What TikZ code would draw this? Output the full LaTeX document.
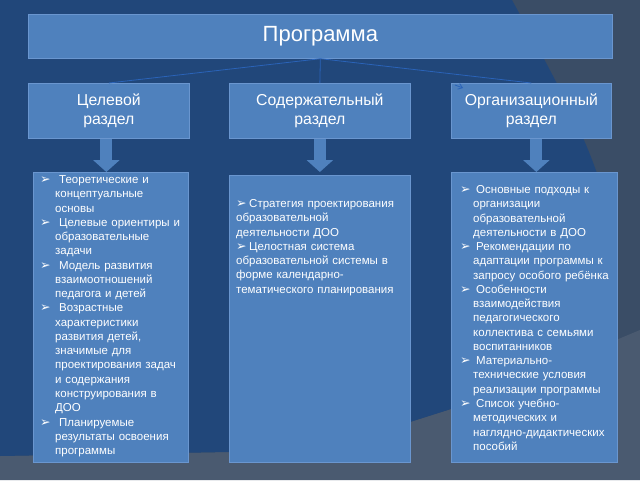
\documentclass[tikz,border=0pt]{standalone}
\usepackage{fontspec}
\setmainfont{Liberation Sans}
\newfontfamily\dejavu{DejaVu Sans}
\usetikzlibrary{arrows.meta}
\definecolor{navy}{HTML}{21477A}
\definecolor{greybg}{HTML}{3A4D66}
\definecolor{greylow}{HTML}{4A5A70}
\definecolor{boxfill}{HTML}{4F81BD}
\definecolor{boxline}{HTML}{6A96CF}
\definecolor{connc}{HTML}{2A63B8}
\newcommand\bul{{\dejavu\fontsize{12.5}{12}\selectfont ➢}}
\newcommand\myitem[2]{\par\hangindent=#1\hangafter=1\noindent\makebox[#2][l]{\bul}}
\tikzset{
  box/.style={draw=boxline, line width=0.7pt, fill=boxfill, text=white, inner sep=0pt, anchor=north west, align=center},
  conn/.style={draw=connc, line width=0.8pt},
  barrow/.style={draw=boxfill, line width=12pt, -{Triangle[width=26pt,length=12pt]}},
  itemtext/.style={text=white, inner sep=0pt, anchor=north west, align=left, text width=175pt, font=\fontsize{11.5}{14.27}\selectfont},
  lvl/.style={box, minimum height=55pt, font=\fontsize{15.8}{19}\selectfont}
}
\begin{document}
\begin{tikzpicture}[x=1pt,y=-1pt]
\useasboundingbox (0,0) rectangle (640,480);
\fill[greybg] (0,0) rectangle (640,480);
\fill[greylow] (0,456) -- (229,452) .. controls (330,445) and (380,430) .. (410,422) -- (451,409) -- (640,330) -- (640,480) -- (0,480) -- cycle;
\fill[navy] (0,0) -- (512,0) .. controls (550,70) and (590,140) .. (605,200) -- (613,339) -- (451,409) -- (410,422)
  .. controls (380,430) and (330,445) .. (229,452) -- (0,456) -- cycle;

\node[box, minimum width=584pt, minimum height=44pt, font=\fontsize{22}{24}\selectfont] (prog) at (28,14) {Программа};
\node[lvl, minimum width=161pt] (lbox) at (28,83) {Целевой\\раздел};
\node[lvl, minimum width=181pt] (mbox) at (229,83) {Содержательный\\раздел};
\node[lvl, minimum width=160pt] (rbox) at (451,83) {Организационный\\раздел};

\node[box, minimum width=155pt, minimum height=290pt] (lcont) at (33,172) {};
\node[box, minimum width=181pt, minimum height=287pt] (mcont) at (229,175) {};
\node[box, minimum width=166pt, minimum height=290pt] (rcont) at (451,172) {};

\draw[conn] (prog.south) -- (lbox.north);
\draw[conn] (prog.south) -- (mbox.north);
\draw[conn] (prog.south) -- (rbox.north);
\coordinate (ta) at (455,85);
\coordinate (tb) at (463,88);
\draw[conn, -{Straight Barb[length=4pt,width=6pt]}] (ta) -- (tb);

\draw[barrow] ([xshift=-2.5pt]lbox.south) -- ([xshift=-2.5pt]lbox.south |- lcont.north);
\draw[barrow] (mbox.south) -- (mbox.south |- lcont.north);
\draw[barrow] ([xshift=5pt]rbox.south) -- ([xshift=5pt]rbox.south |- lcont.north);

\node[itemtext] (lt) at (40,169) {%
\myitem{15pt}{19pt}Теоретические и\newline концептуальные\newline основы
\myitem{15pt}{19pt}Целевые ориентиры и\newline образовательные\newline задачи
\myitem{15pt}{19pt}Модель развития\newline взаимоотношений\newline педагога и детей
\myitem{15pt}{19pt}Возрастные\newline характеристики\newline развития детей,\newline значимые для\newline проектирования задач\newline и содержания\newline конструирования в\newline ДОО
\myitem{15pt}{19pt}Планируемые\newline результаты освоения\newline программы\par};

\node[itemtext, text width=200pt] (mt) at (236,193) {%
\myitem{0pt}{13pt}Стратегия проектирования\newline образовательной\newline деятельности ДОО
\myitem{0pt}{13pt}Целостная система\newline образовательной системы в\newline форме календарно-\newline тематического планирования\par};

\node[itemtext] (rt) at (460,179) {%
\myitem{13pt}{16pt}Основные подходы к\newline организации\newline образовательной\newline деятельности в ДОО
\myitem{13pt}{16pt}Рекомендации по\newline адаптации программы к\newline запросу особого ребёнка
\myitem{13pt}{16pt}Особенности\newline взаимодействия\newline педагогического\newline коллектива с семьями\newline воспитанников
\myitem{13pt}{16pt}Материально-\newline технические условия\newline реализации программы
\myitem{13pt}{16pt}Список учебно-\newline методических и\newline наглядно-дидактических\newline пособий\par};
\end{tikzpicture}
\end{document}
